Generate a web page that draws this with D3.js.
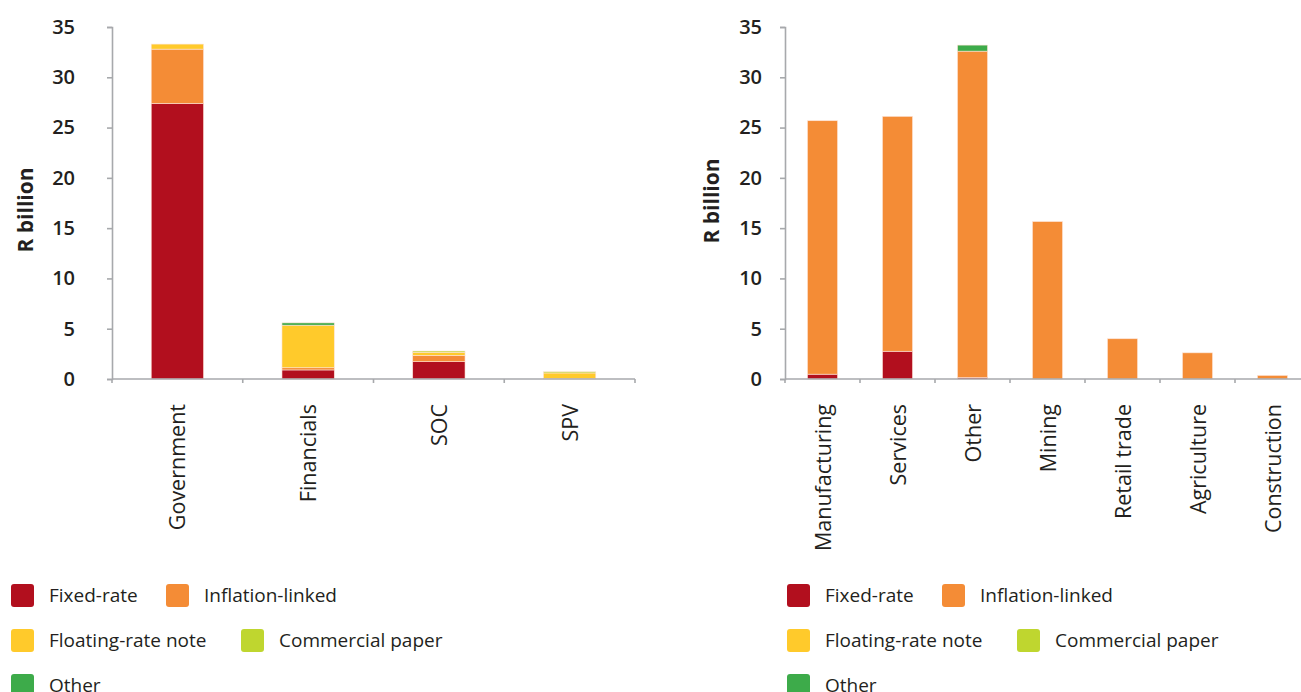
<!DOCTYPE html>
<html>
<head>
<meta charset="utf-8">
<script src="https://cdn.jsdelivr.net/npm/d3@7"></script>
<style>
  html, body { margin: 0; padding: 0; background: #fff; }
  svg { display: block; }
  text { font-family: "Open Sans", "Noto Sans", sans-serif; fill: #231f20; }
</style>
</head>
<body>
<svg id="chart" width="1301" height="692"></svg>
<script>
// Instrument types (stack order, bottom to top)
const seriesNames = ["Fixed-rate", "Inflation-linked", "Floating-rate note", "Commercial paper", "Other"];
const seriesColors = ["#b20f1e", "#f48c36", "#ffca2b", "#bfd62f", "#3dab4a"];

// Issuance by issuer type (R billion)
const issuerCategories = ["Government", "Financials", "SOC", "SPV"];
const issuerFixed      = [27.4, 0.9, 1.72, 0];
const issuerInflation  = [5.4, 0.22, 0.63, 0.05];
const issuerFloating   = [0.5, 4.23, 0.3, 0.55];
const issuerCommercial = [0, 0, 0.13, 0.12];
const issuerOther      = [0, 0.23, 0, 0];

// Issuance by sector (R billion)
const sectorCategories = ["Manufacturing", "Services", "Other", "Mining", "Retail trade", "Agriculture", "Construction"];
const sectorFixed      = [0.48, 2.76, 0.15, 0, 0, 0, 0];
const sectorInflation  = [25.2, 23.35, 32.45, 15.65, 4.0, 2.6, 0.35];
const sectorFloating   = [0, 0, 0, 0, 0, 0, 0];
const sectorCommercial = [0, 0, 0, 0, 0, 0, 0];
const sectorOther      = [0, 0, 0.6, 0, 0, 0, 0];

const yTicks = [0, 5, 10, 15, 20, 25, 30, 35];
const yLabel = "R billion";

const svg = d3.select("#chart");
const axisColor = "#a7a9ac";

function rows(categories, cols) {
  return categories.map((c, i) => {
    const r = { category: c };
    seriesNames.forEach((s, k) => { r[s] = cols[k][i]; });
    return r;
  });
}

function drawPanel(opts) {
  const { categories, cols, x0, x1, yTop, yBottom, tickLabelGap, titleX, titleY } = opts;
  const g = svg.append("g");

  const x = d3.scaleBand().domain(categories).range([x0, x1]).paddingInner(0.6).paddingOuter(0.3);
  const y = d3.scaleLinear().domain([0, 35]).range([yBottom, yTop]);

  const data = rows(categories, cols);
  const stacked = d3.stack().keys(seriesNames)(data);

  // Stacked bars
  g.selectAll("g.layer")
    .data(stacked)
    .join("g")
    .attr("class", "layer")
    .attr("fill", (d, i) => seriesColors[i])
    .selectAll("rect")
    .data(d => d.filter(p => p[1] - p[0] > 0))
    .join("rect")
    .attr("x", d => x(d.data.category))
    .attr("width", x.bandwidth())
    .attr("y", d => y(d[1]))
    .attr("height", d => y(d[0]) - y(d[1]))
    .attr("stroke", "#fde3d6")
    .attr("stroke-width", 0.6);

  // Y axis
  const yAxis = d3.axisLeft(y).tickValues(yTicks).tickSize(5).tickPadding(tickLabelGap);
  const ya = g.append("g").attr("transform", `translate(${x0},0)`).call(yAxis);
  ya.select(".domain").attr("stroke", axisColor).attr("stroke-width", 1.6);
  ya.selectAll(".tick line").attr("stroke", axisColor).attr("stroke-width", 1.6);
  ya.selectAll(".tick text")
    .attr("font-size", 20)
    .attr("font-weight", 600)
    .attr("fill", "#231f20")
    .style("font-family", "'Open Sans', sans-serif");

  // X axis: line with ticks at category boundaries
  const bounds = d3.range(categories.length + 1).map(i => x0 + i * (x1 - x0) / categories.length);
  g.append("line")
    .attr("x1", x0).attr("x2", x1)
    .attr("y1", yBottom).attr("y2", yBottom)
    .attr("stroke", axisColor).attr("stroke-width", 1.6);
  g.selectAll("line.xtick")
    .data(bounds)
    .join("line")
    .attr("class", "xtick")
    .attr("x1", d => d).attr("x2", d => d)
    .attr("y1", yBottom).attr("y2", yBottom + 4)
    .attr("stroke", axisColor).attr("stroke-width", 1.6);

  // Category labels, rotated
  g.selectAll("text.cat")
    .data(categories)
    .join("text")
    .attr("class", "cat")
    .attr("transform", d => `translate(${x(d) + x.bandwidth() / 2 + 8},${yBottom + 25}) rotate(-90)`)
    .attr("text-anchor", "end")
    .attr("font-size", 21.5)
    .text(d => d);

  // Y axis title
  g.append("text")
    .attr("transform", `translate(${titleX},${titleY}) rotate(-90)`)
    .attr("text-anchor", "middle")
    .attr("font-size", 21)
    .attr("font-weight", 700)
    .text(yLabel);
}

function drawLegend(left, top) {
  const g = svg.append("g").attr("transform", `translate(${left},${top})`);
  const layout = [
    { i: 0, dx: 0,   row: 0 }, { i: 1, dx: 155, row: 0 },
    { i: 2, dx: 0,   row: 1 }, { i: 3, dx: 230, row: 1 },
    { i: 4, dx: 0,   row: 2 }
  ];
  layout.forEach(item => {
    const dy = item.row * 45;
    g.append("rect")
      .attr("x", item.dx).attr("y", dy)
      .attr("width", 23).attr("height", 23)
      .attr("rx", 3)
      .attr("fill", seriesColors[item.i]);
    g.append("text")
      .attr("x", item.dx + 38).attr("y", dy + 18)
      .attr("font-size", 19)
      .text(seriesNames[item.i]);
  });
}

drawPanel({
  categories: issuerCategories,
  cols: [issuerFixed, issuerInflation, issuerFloating, issuerCommercial, issuerOther],
  x0: 112, x1: 635, yTop: 27, yBottom: 379, tickLabelGap: 32, titleX: 33, titleY: 210
});

drawPanel({
  categories: sectorCategories,
  cols: [sectorFixed, sectorInflation, sectorFloating, sectorCommercial, sectorOther],
  x0: 785, x1: 1310, yTop: 27, yBottom: 379, tickLabelGap: 18, titleX: 719, titleY: 201
});

drawLegend(11, 584);
drawLegend(787, 584);
</script>
</body>
</html>
